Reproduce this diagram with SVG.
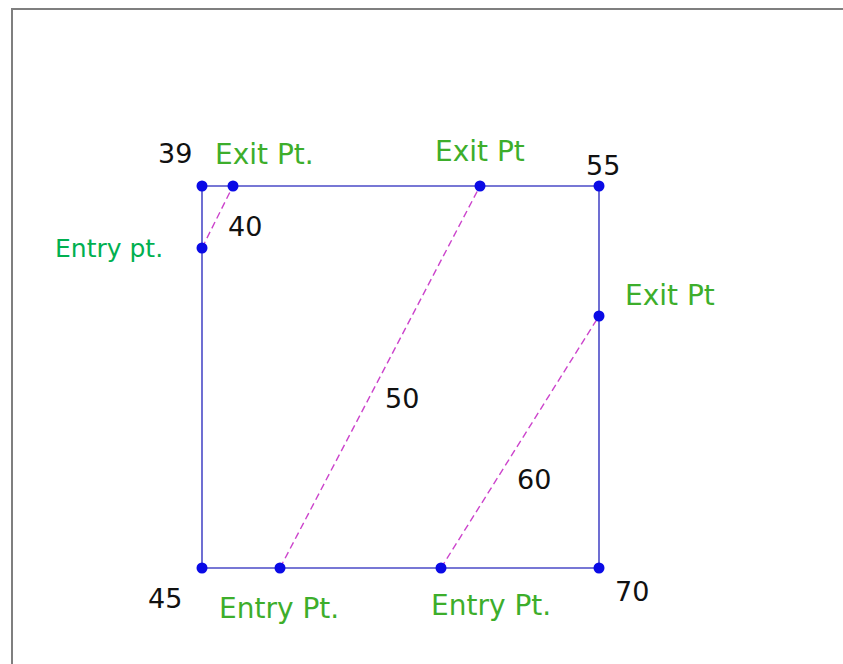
<svg xmlns="http://www.w3.org/2000/svg" width="843" height="664" viewBox="0 0 843 664">
<style>
.frame{fill:none;stroke:#7f7f7f;stroke-width:2}
.edge{stroke:#4b4bc8;stroke-width:1.6;fill:none}
.path{stroke:#cc44cc;stroke-width:1.4;stroke-dasharray:7,4;fill:none}
.dot{fill:#0a0ae6}
.num{font-family:"DejaVu Sans",Verdana,sans-serif;font-size:27px;fill:#111}
.lbl{font-family:"DejaVu Sans",Verdana,sans-serif;font-size:28px;fill:#3dae2b}
.lbl2{font-family:"DejaVu Sans",Verdana,sans-serif;font-size:25px;fill:#00b050}
</style>
<rect width="843" height="664" fill="#fff"/>
<path class="frame" d="M12,664 V9 H843"/>
<g id="connectors">
<path class="edge" d="M202,186 H599 V568 H202 Z"/>
<line class="path" x1="202" y1="248" x2="233" y2="186"/>
<line class="path" x1="280" y1="568" x2="480" y2="186"/>
<line class="path" x1="441" y1="568" x2="599" y2="316"/>
</g>
<g id="n39"><circle class="dot" cx="202" cy="186" r="5.5"/><text class="num" x="158" y="163">39</text></g>
<g id="n55"><circle class="dot" cx="599" cy="186" r="5.5"/><text class="num" x="586" y="175">55</text></g>
<g id="n45"><circle class="dot" cx="202" cy="568" r="5.5"/><text class="num" x="148" y="608">45</text></g>
<g id="n70"><circle class="dot" cx="599" cy="568" r="5.5"/><text class="num" x="615" y="601">70</text></g>
<g id="p40exit"><circle class="dot" cx="233" cy="186" r="5.5"/><text class="lbl" x="215" y="164">Exit Pt.</text></g>
<g id="p40entry"><circle class="dot" cx="202" cy="248" r="5.5"/><text class="lbl2" x="55" y="257">Entry pt.</text></g>
<g id="p50exit"><circle class="dot" cx="480" cy="186" r="5.5"/><text class="lbl" x="435" y="161">Exit Pt</text></g>
<g id="p50entry"><circle class="dot" cx="280" cy="568" r="5.5"/><text class="lbl" x="219" y="618">Entry Pt.</text></g>
<g id="p60exit"><circle class="dot" cx="599" cy="316" r="5.5"/><text class="lbl" x="625" y="305">Exit Pt</text></g>
<g id="p60entry"><circle class="dot" cx="441" cy="568" r="5.5"/><text class="lbl" x="431" y="615">Entry Pt.</text></g>
<g id="labels">
<text class="num" x="228" y="236">40</text>
<text class="num" x="385" y="408">50</text>
<text class="num" x="517" y="489">60</text>
</g>
</svg>
